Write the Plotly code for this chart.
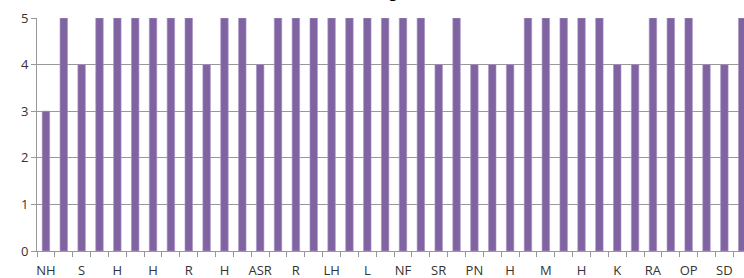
import plotly.graph_objects as go

values = [3, 5, 4, 5, 5, 5, 5, 5, 5, 4,
          5, 5, 4, 5, 5, 5, 5, 5, 5, 5,
          5, 5, 4, 5, 4, 4, 4, 5, 5, 5,
          5, 5, 4, 4, 5, 5, 5, 4, 4, 5]
tick_labels = ["NH", "S", "H", "H", "R", "H", "ASR", "R", "LH", "L",
               "NF", "SR", "PN", "H", "M", "H", "K", "RA", "OP", "SD"]
title_text = "Rating"

positions = list(range(len(values)))
label_positions = positions[::2]
boundaries = [p - 0.5 for p in positions] + [len(values) - 0.5]

BAR = "#8064A2"
GRID = "#989898"
TEXT = "#333333"
FONT = "Open Sans"

fig = go.Figure(go.Bar(
    x=positions, y=values, width=0.42,
    marker=dict(color=BAR, line=dict(color="#A996C4", width=0.6)),
))

fig.update_layout(
    width=744, height=278,
    margin=dict(l=37, r=0, t=18, b=27),
    paper_bgcolor="white", plot_bgcolor="white",
    showlegend=False,
    font=dict(family=FONT, size=13, color=TEXT),
    annotations=[dict(text="<b>" + title_text + "</b>", xref="paper", yref="paper",
                      x=0.478, y=1.062, xanchor="center", yanchor="bottom",
                      showarrow=False, font=dict(family=FONT, size=14, color="black"))],
)
fig.update_xaxes(
    range=[-0.5, 39.1],
    tickmode="array", tickvals=label_positions, ticktext=tick_labels,
    ticks="outside", ticklen=7, tickcolor="rgba(0,0,0,0)",
    showgrid=False, zeroline=False,
    showline=True, linecolor=GRID, linewidth=1,
    minor=dict(tickmode="array", tickvals=boundaries, ticks="outside",
               ticklen=5, tickcolor=GRID, showgrid=False),
    tickfont=dict(family=FONT, size=13, color=TEXT),
)
fig.update_yaxes(
    range=[0, 5], tickvals=[0, 1, 2, 3, 4, 5],
    ticks="outside", ticklen=5, tickcolor=GRID,
    showgrid=True, gridcolor=GRID, gridwidth=1,
    zeroline=False, showline=True, linecolor=GRID, linewidth=1,
    tickfont=dict(family=FONT, size=13, color=TEXT),
)

fig.write_html(
    "out.html",
    config={"displayModeBar": False},
    post_script="document.body.style.margin='0';document.body.style.overflow='hidden';",
)
